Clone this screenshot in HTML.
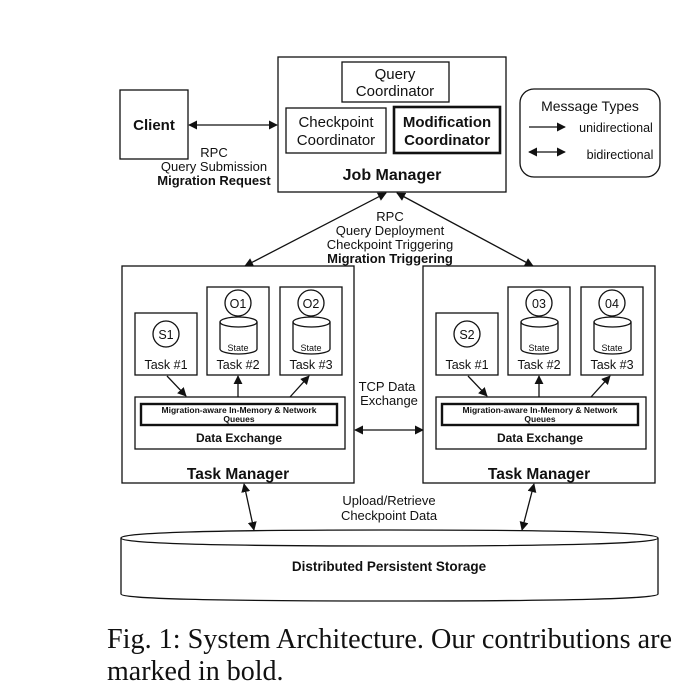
<!DOCTYPE html>
<html><head><style>
body{margin:0;background:#fff}
svg{display:block}
text{font-family:"Liberation Sans",sans-serif;fill:#111}
.b{font-weight:bold}
</style></head><body>
<svg width="694" height="696" viewBox="0 0 694 696">
<defs>
<marker id="a" viewBox="0 0 10 10" refX="9" refY="5" markerWidth="9" markerHeight="9" orient="auto-start-reverse" markerUnits="userSpaceOnUse"><path d="M0,0L10,5L0,10z" fill="#111"/></marker>
</defs>
<g fill="none" stroke="#111" stroke-width="1.3">
<rect x="120" y="90" width="68" height="69"/>
<rect x="278" y="57" width="228" height="135"/>
<rect x="342" y="62" width="107" height="40"/>
<rect x="286" y="108" width="100" height="45"/>
<rect x="394" y="107" width="106" height="46" stroke-width="2.6"/>
<rect x="520" y="89" width="140" height="88" rx="14"/>
<line x1="189" y1="125" x2="277" y2="125" marker-start="url(#a)" marker-end="url(#a)"/>
<line x1="529" y1="127" x2="565" y2="127" marker-end="url(#a)"/>
<line x1="529" y1="152" x2="565" y2="152" marker-start="url(#a)" marker-end="url(#a)"/>
<line x1="386" y1="193" x2="245" y2="266" marker-start="url(#a)" marker-end="url(#a)"/>
<line x1="397" y1="193" x2="533" y2="266" marker-start="url(#a)" marker-end="url(#a)"/>
<line x1="355" y1="430" x2="423" y2="430" marker-start="url(#a)" marker-end="url(#a)"/>
<line x1="244" y1="484" x2="254" y2="530" marker-start="url(#a)" marker-end="url(#a)"/>
<line x1="534" y1="484" x2="522" y2="530" marker-start="url(#a)" marker-end="url(#a)"/>
<path d="M121,538 Q121,530 390,530 Q658,530 658,538 L658,594 Q658,601 390,601 Q121,601 121,594 Z"/>
<path d="M121,538 Q121,546 390,546 Q658,546 658,538"/>
</g>
<g id="tm" fill="none" stroke="#111" stroke-width="1.3">
<rect x="122" y="266" width="232" height="217"/>
<rect x="135" y="313" width="62" height="62"/>
<rect x="207" y="287" width="62" height="88"/>
<rect x="280" y="287" width="62" height="88"/>
<circle cx="166" cy="334" r="13"/>
<circle cx="238" cy="303" r="13"/>
<circle cx="311" cy="303" r="13"/>
<path d="M220,322 v27 a18.5,5 0 0 0 37,0 v-27"/><ellipse cx="238.5" cy="322" rx="18.5" ry="5"/>
<path d="M293,322 v27 a18.5,5 0 0 0 37,0 v-27"/><ellipse cx="311.5" cy="322" rx="18.5" ry="5"/>
<rect x="135" y="397" width="210" height="52"/>
<rect x="141" y="404" width="196" height="21" stroke-width="2.4"/>
<line x1="167" y1="376" x2="186" y2="396" marker-end="url(#a)"/>
<line x1="238" y1="397" x2="238" y2="376" marker-end="url(#a)"/>
<line x1="290" y1="397" x2="309" y2="376" marker-end="url(#a)"/>
</g>
<g font-size="12.5" text-anchor="middle">
<text x="166" y="339">S1</text><text x="238" y="308">O1</text><text x="311" y="308">O2</text>
<text x="166" y="369">Task #1</text><text x="238" y="369">Task #2</text><text x="311" y="369">Task #3</text>
<text x="238" y="351" font-size="9">State</text><text x="311" y="351" font-size="9">State</text>
<text x="239" y="413" font-size="8.5" class="b">Migration-aware In-Memory &amp; Network</text>
<text x="239" y="422" font-size="8.5" class="b">Queues</text>
<text x="239" y="442" font-size="12" class="b">Data Exchange</text>
<text x="238" y="479" font-size="15.5" class="b">Task Manager</text>
</g>
<use href="#tm" x="301"/>
<g font-size="12.5" text-anchor="middle" transform="translate(301,0)">
<text x="166" y="339">S2</text><text x="238" y="308">03</text><text x="311" y="308">04</text>
<text x="166" y="369">Task #1</text><text x="238" y="369">Task #2</text><text x="311" y="369">Task #3</text>
<text x="238" y="351" font-size="9">State</text><text x="311" y="351" font-size="9">State</text>
<text x="239" y="413" font-size="8.5" class="b">Migration-aware In-Memory &amp; Network</text>
<text x="239" y="422" font-size="8.5" class="b">Queues</text>
<text x="239" y="442" font-size="12" class="b">Data Exchange</text>
<text x="238" y="479" font-size="15.5" class="b">Task Manager</text>
</g>
<g text-anchor="middle" font-size="15">
<text x="154" y="130" class="b">Client</text>
<text x="395" y="79">Query</text><text x="395" y="96">Coordinator</text>
<text x="336" y="127">Checkpoint</text><text x="336" y="145">Coordinator</text>
<text x="447" y="127" class="b">Modification</text><text x="447" y="145" class="b">Coordinator</text>
<text x="392" y="180" class="b" font-size="16">Job Manager</text>
<text x="590" y="111" font-size="14">Message Types</text>
</g>
<g font-size="13" text-anchor="middle">
<text x="214" y="157">RPC</text>
<text x="214" y="171">Query Submission</text>
<text x="214" y="185" class="b">Migration Request</text>
<text x="390" y="221">RPC</text>
<text x="390" y="235">Query Deployment</text>
<text x="390" y="249">Checkpoint Triggering</text>
<text x="390" y="263" class="b">Migration Triggering</text>
<text x="387" y="391">TCP Data</text>
<text x="389" y="405">Exchange</text>
<text x="389" y="505">Upload/Retrieve</text>
<text x="389" y="520">Checkpoint Data</text>
<text x="389" y="571" class="b" font-size="13.5">Distributed Persistent Storage</text>
</g>
<text x="616" y="132" font-size="12.5" text-anchor="middle">unidirectional</text>
<text x="620" y="159" font-size="12.5" text-anchor="middle">bidirectional</text>
<text x="107" y="648" font-size="28" textLength="565" lengthAdjust="spacingAndGlyphs" style="font-family:'Liberation Serif',serif">Fig. 1: System Architecture. Our contributions are</text>
<text x="107" y="680" font-size="28" style="font-family:'Liberation Serif',serif">marked in bold.</text>
</svg>
</body></html>
